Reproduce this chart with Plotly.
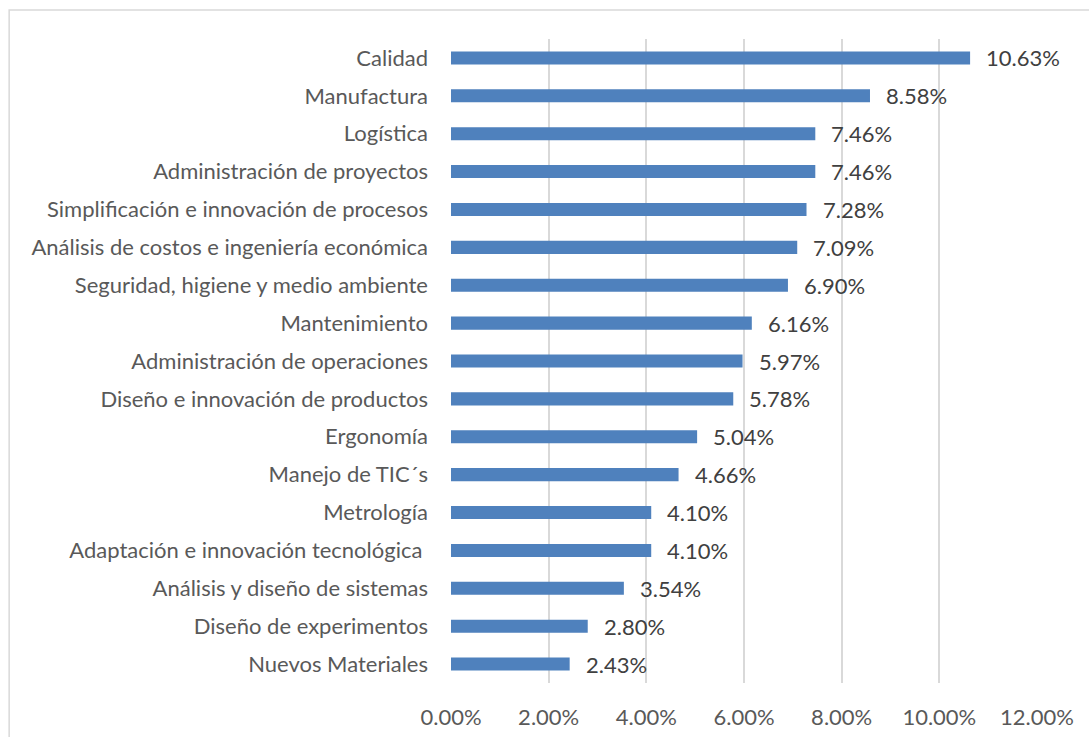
import plotly.graph_objects as go

# Competencias ordered bottom to top (Plotly draws the first category at the bottom)
categories = [
    "Nuevos Materiales",
    "Diseño de experimentos",
    "Análisis y diseño de sistemas",
    "Adaptación e innovación tecnológica\u00a0",
    "Metrología",
    "Manejo de TIC´s",
    "Ergonomía",
    "Diseño e innovación de productos",
    "Administración de operaciones",
    "Mantenimiento",
    "Seguridad, higiene y medio ambiente",
    "Análisis de costos e ingeniería económica",
    "Simplificación e innovación de procesos",
    "Administración de proyectos",
    "Logística",
    "Manufactura",
    "Calidad",
]
values = [2.43, 2.80, 3.54, 4.10, 4.10, 4.66, 5.04, 5.78, 5.97, 6.16,
          6.90, 7.09, 7.28, 7.46, 7.46, 8.58, 10.63]
tick_vals = [0, 2, 4, 6, 8, 10, 12]
tick_text = ["0.00%", "2.00%", "4.00%", "6.00%", "8.00%", "10.00%", "12.00%"]

FONT = "Lato, Carlito, Calibri, sans-serif"
GRAY = "#595959"
SIZE = 22

fig = go.Figure(
    go.Bar(
        x=values,
        y=categories,
        orientation="h",
        marker=dict(color="#4F81BD", line=dict(width=0)),
        hoverinfo="skip",
    )
)

# Value labels to the right of each bar
for cat, v in zip(categories, values):
    fig.add_annotation(
        x=v, y=cat, text=f"{v:.2f}%", showarrow=False,
        xanchor="left", yanchor="middle", xshift=14,
        font=dict(family=FONT, size=SIZE, color="#404040"),
    )

# Chart area border
fig.add_shape(
    type="rect", xref="paper", yref="paper",
    x0=-0.754, x1=2, y0=-1, y1=1.045,
    line=dict(color="#D9D9D9", width=1.5), fillcolor="rgba(0,0,0,0)",
    layer="below",
)

fig.update_layout(
    width=1089, height=737,
    margin=dict(l=451, r=52, t=39, b=54),
    paper_bgcolor="white", plot_bgcolor="white",
    bargap=0.655,
    showlegend=False,
    font=dict(family=FONT, size=SIZE, color=GRAY),
    xaxis=dict(
        range=[0, 12], tickvals=tick_vals, ticktext=tick_text,
        showgrid=True, gridcolor="#D9D9D9", gridwidth=1.5,
        zeroline=False, showline=False, ticks="",
        ticklabelstandoff=19, automargin=False,
        tickfont=dict(family=FONT, size=SIZE, color=GRAY),
    ),
    yaxis=dict(
        categoryorder="array", categoryarray=categories,
        showgrid=False, zeroline=False, showline=False, ticks="",
        ticklabelstandoff=22, automargin=False,
        tickfont=dict(family=FONT, size=SIZE, color=GRAY),
    ),
)

fig.write_html("out.html")
